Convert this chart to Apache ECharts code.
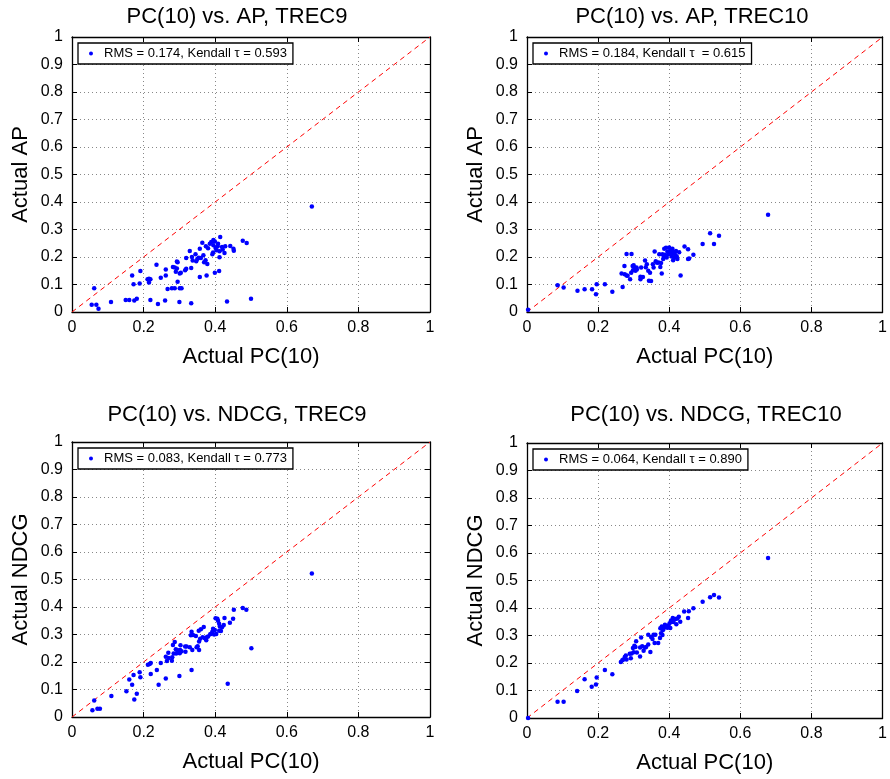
<!DOCTYPE html>
<html>
<head>
<meta charset="utf-8">
<script src="https://cdn.jsdelivr.net/npm/echarts@6/dist/echarts.min.js"></script>
<style>
html, body { margin: 0; padding: 0; background: #fff; }
#main { width: 890px; height: 779px; }
</style>
</head>
<body>
<div id="main"></div>
<script>
// panel titles, axis names and legend texts
var titles = ['PC(10) vs. AP, TREC9', 'PC(10) vs. AP, TREC10', 'PC(10) vs. NDCG, TREC9', 'PC(10) vs. NDCG, TREC10'];
var xNames = ['Actual PC(10)', 'Actual PC(10)', 'Actual PC(10)', 'Actual PC(10)'];
var yNames = ['Actual AP', 'Actual AP', 'Actual NDCG', 'Actual NDCG'];
var legendNames = [
	'RMS = 0.174, Kendall \u03c4 = 0.593',
	'RMS = 0.184, Kendall \u03c4  = 0.615',
	'RMS = 0.083, Kendall \u03c4 = 0.773',
	'RMS = 0.064, Kendall \u03c4 = 0.890'
];

// reference line y = x
var diag = [[0, 0], [1, 1]];

// [actual PC(10), actual AP] TREC9
var apTrec9 = [
	[0.062,0.086],[0.055,0.026],[0.068,0.026],[0.074,0.012],[0.109,0.036],[0.150,0.044],[0.160,0.044],
	[0.168,0.133],[0.172,0.101],[0.174,0.042],[0.181,0.048],[0.189,0.104],[0.191,0.149],[0.211,0.119],
	[0.215,0.121],[0.219,0.119],[0.215,0.107],[0.219,0.044],[0.236,0.172],[0.240,0.029],[0.248,0.125],
	[0.262,0.155],[0.262,0.133],[0.260,0.042],[0.267,0.084],[0.279,0.086],[0.287,0.086],[0.282,0.164],
	[0.287,0.162],[0.290,0.146],[0.293,0.184],[0.295,0.181],[0.293,0.158],[0.295,0.110],[0.301,0.140],
	[0.301,0.086],[0.306,0.086],[0.300,0.036],[0.304,0.143],[0.316,0.152],[0.319,0.157],[0.319,0.196],
	[0.329,0.222],[0.333,0.160],[0.333,0.032],[0.335,0.200],[0.337,0.187],[0.345,0.210],[0.347,0.185],
	[0.350,0.193],[0.354,0.197],[0.357,0.230],[0.357,0.127],[0.360,0.196],[0.364,0.252],[0.367,0.206],
	[0.369,0.181],[0.373,0.188],[0.374,0.239],[0.376,0.133],[0.378,0.175],[0.380,0.232],[0.385,0.248],
	[0.389,0.255],[0.392,0.210],[0.394,0.216],[0.395,0.262],[0.395,0.243],[0.399,0.256],[0.399,0.143],
	[0.401,0.233],[0.404,0.225],[0.407,0.239],[0.408,0.248],[0.411,0.149],[0.412,0.199],[0.412,0.221],
	[0.414,0.273],[0.419,0.236],[0.421,0.227],[0.426,0.215],[0.428,0.239],[0.433,0.038],[0.442,0.240],
	[0.451,0.230],[0.452,0.223],[0.477,0.259],[0.488,0.251],[0.500,0.048],[0.670,0.384]
];

// [actual PC(10), actual AP] TREC10
var apTrec10 = [
	[0.003,0.008],[0.086,0.097],[0.103,0.089],[0.142,0.077],[0.162,0.083],[0.183,0.083],[0.194,0.065],
	[0.196,0.101],[0.219,0.101],[0.240,0.074],[0.266,0.140],[0.269,0.091],[0.274,0.167],[0.275,0.137],
	[0.280,0.133],[0.280,0.211],[0.283,0.132],[0.290,0.119],[0.293,0.143],[0.294,0.211],[0.297,0.167],
	[0.298,0.152],[0.300,0.170],[0.303,0.160],[0.305,0.150],[0.308,0.162],[0.309,0.155],[0.319,0.119],
	[0.319,0.128],[0.321,0.162],[0.326,0.127],[0.332,0.187],[0.334,0.163],[0.337,0.174],[0.341,0.150],
	[0.343,0.114],[0.346,0.143],[0.349,0.113],[0.354,0.174],[0.356,0.162],[0.359,0.220],[0.362,0.185],
	[0.366,0.179],[0.370,0.180],[0.372,0.210],[0.375,0.164],[0.377,0.178],[0.379,0.140],[0.381,0.210],
	[0.383,0.193],[0.385,0.202],[0.386,0.230],[0.388,0.208],[0.391,0.234],[0.393,0.198],[0.395,0.220],
	[0.398,0.210],[0.400,0.235],[0.402,0.221],[0.404,0.227],[0.405,0.212],[0.407,0.202],[0.409,0.230],
	[0.411,0.188],[0.412,0.218],[0.414,0.197],[0.416,0.210],[0.419,0.222],[0.421,0.203],[0.423,0.193],
	[0.428,0.217],[0.432,0.133],[0.443,0.238],[0.453,0.193],[0.453,0.228],[0.456,0.195],[0.468,0.208],
	[0.494,0.247],[0.515,0.286],[0.526,0.247],[0.540,0.277],[0.678,0.354]
];

// [actual PC(10), actual NDCG] TREC9
var ndcgTrec9 = [
	[0.057,0.025],[0.062,0.060],[0.071,0.030],[0.078,0.030],[0.110,0.076],[0.152,0.094],[0.160,0.136],
	[0.168,0.117],[0.172,0.153],[0.174,0.064],[0.181,0.085],[0.189,0.163],[0.191,0.145],[0.212,0.190],
	[0.217,0.193],[0.220,0.196],[0.220,0.156],[0.237,0.171],[0.242,0.117],[0.248,0.196],[0.262,0.140],
	[0.262,0.219],[0.265,0.204],[0.269,0.234],[0.270,0.215],[0.279,0.205],[0.280,0.217],[0.282,0.262],
	[0.284,0.231],[0.287,0.273],[0.290,0.246],[0.291,0.231],[0.295,0.237],[0.296,0.243],[0.300,0.149],
	[0.301,0.232],[0.302,0.244],[0.303,0.261],[0.306,0.239],[0.316,0.256],[0.317,0.237],[0.320,0.256],
	[0.329,0.254],[0.332,0.297],[0.334,0.310],[0.334,0.171],[0.336,0.244],[0.338,0.298],[0.346,0.295],
	[0.348,0.254],[0.351,0.257],[0.354,0.314],[0.355,0.244],[0.355,0.275],[0.358,0.285],[0.360,0.319],
	[0.365,0.290],[0.368,0.327],[0.371,0.286],[0.375,0.279],[0.376,0.290],[0.380,0.293],[0.386,0.301],
	[0.389,0.303],[0.392,0.310],[0.394,0.321],[0.397,0.300],[0.399,0.316],[0.401,0.359],[0.403,0.302],
	[0.406,0.357],[0.408,0.350],[0.411,0.339],[0.411,0.314],[0.413,0.329],[0.416,0.313],[0.419,0.326],
	[0.424,0.335],[0.426,0.360],[0.435,0.121],[0.441,0.343],[0.450,0.357],[0.452,0.390],[0.477,0.396],
	[0.487,0.390],[0.501,0.250],[0.670,0.522]
];

// [actual PC(10), actual NDCG] TREC10
var ndcgTrec10 = [
	[0.003,0.000],[0.086,0.059],[0.103,0.059],[0.141,0.098],[0.162,0.141],[0.182,0.114],[0.194,0.122],
	[0.196,0.147],[0.219,0.175],[0.240,0.159],[0.264,0.204],[0.268,0.210],[0.271,0.213],[0.275,0.222],
	[0.278,0.227],[0.280,0.213],[0.289,0.234],[0.292,0.217],[0.294,0.235],[0.298,0.255],[0.300,0.239],
	[0.302,0.263],[0.305,0.258],[0.307,0.279],[0.309,0.238],[0.318,0.224],[0.318,0.256],[0.321,0.293],
	[0.324,0.261],[0.328,0.245],[0.332,0.256],[0.335,0.258],[0.341,0.267],[0.341,0.303],[0.347,0.240],
	[0.349,0.295],[0.353,0.287],[0.356,0.303],[0.359,0.273],[0.361,0.303],[0.369,0.273],[0.374,0.291],
	[0.375,0.326],[0.377,0.308],[0.379,0.333],[0.381,0.302],[0.382,0.319],[0.384,0.325],[0.386,0.331],
	[0.388,0.339],[0.391,0.331],[0.394,0.335],[0.395,0.328],[0.398,0.335],[0.401,0.345],[0.403,0.327],
	[0.405,0.355],[0.407,0.350],[0.410,0.364],[0.412,0.349],[0.414,0.360],[0.418,0.360],[0.420,0.341],
	[0.423,0.362],[0.427,0.368],[0.431,0.350],[0.442,0.387],[0.453,0.364],[0.455,0.388],[0.468,0.399],
	[0.494,0.423],[0.515,0.439],[0.526,0.447],[0.540,0.438],[0.678,0.582]
];

var panelData = [apTrec9, apTrec10, ndcgTrec9, ndcgTrec10];

// layout of the four plot boxes
var boxes = [
	{ left: 72, top: 37, width: 358, height: 275 },
	{ left: 527, top: 37, width: 358, height: 275 },
	{ left: 72, top: 442, width: 358, height: 275 },
	{ left: 527, top: 443, width: 358, height: 275 }
];
var titlePos = [[237, 6], [692, 6], [237, 404], [706, 404]];

var font = 'Liberation Sans, Arial, Helvetica, sans-serif';

var myChart = echarts.init(document.getElementById('main'));

var grid = [], xAxis = [], yAxis = [], series = [], title = [], legend = [];

for (var i = 0; i < 4; i++) {
	var b = boxes[i];
	grid.push({ left: b.left, top: b.top, width: b.width, height: b.height, containLabel: false });

	title.push({
		text: titles[i],
		left: titlePos[i][0],
		top: titlePos[i][1],
		textAlign: 'center',
		padding: 0,
		textStyle: { fontFamily: font, fontSize: 22, fontWeight: 'normal', color: '#000' }
	});

	legend.push({
		data: [legendNames[i]],
		left: b.left + 6,
		top: b.top + 6,
		icon: 'circle',
		itemWidth: 4,
		itemHeight: 4,
		padding: [4, 6, 4, 11],
		borderColor: '#000',
		borderWidth: 1.3,
		backgroundColor: '#fff',
		selectedMode: false,
		textStyle: { fontFamily: font, fontSize: 13, color: '#000', padding: [0, 0, 0, 6] }
	});

	// bottom / left axes with labels and dotted grid
	xAxis.push({
		gridIndex: i, type: 'value', min: 0, max: 1, interval: 0.2, position: 'bottom',
		name: xNames[i], nameLocation: 'middle', nameGap: 34,
		nameTextStyle: { fontFamily: font, fontSize: 22, color: '#000' },
		axisLine: { show: true, onZero: false, lineStyle: { color: '#000', width: 1.3 } },
		axisTick: { show: true, inside: true, length: 5, lineStyle: { color: '#000' } },
		axisLabel: { fontFamily: font, fontSize: 16, color: '#000', margin: 8 },
		splitLine: { show: true, lineStyle: { color: '#888', width: 1, type: [1, 3] } }
	});
	xAxis.push({
		gridIndex: i, type: 'value', min: 0, max: 1, interval: 0.2, position: 'top',
		axisLine: { show: true, onZero: false, lineStyle: { color: '#000', width: 1.3 } },
		axisTick: { show: true, inside: true, length: 5, lineStyle: { color: '#000' } },
		axisLabel: { show: false },
		splitLine: { show: false }
	});
	yAxis.push({
		gridIndex: i, type: 'value', min: 0, max: 1, interval: 0.1, position: 'left',
		name: yNames[i], nameLocation: 'middle', nameGap: 40,
		nameTextStyle: { fontFamily: font, fontSize: 22, color: '#000' },
		axisLine: { show: true, onZero: false, lineStyle: { color: '#000', width: 1.3 } },
		axisTick: { show: true, inside: true, length: 5, lineStyle: { color: '#000' } },
		axisLabel: { fontFamily: font, fontSize: 16, color: '#000', margin: 9 },
		splitLine: { show: true, lineStyle: { color: '#888', width: 1, type: [1, 3] } }
	});
	yAxis.push({
		gridIndex: i, type: 'value', min: 0, max: 1, interval: 0.1, position: 'right',
		axisLine: { show: true, onZero: false, lineStyle: { color: '#000', width: 1.3 } },
		axisTick: { show: true, inside: true, length: 5, lineStyle: { color: '#000' } },
		axisLabel: { show: false },
		splitLine: { show: false }
	});

	series.push({
		type: 'line',
		xAxisIndex: 2 * i,
		yAxisIndex: 2 * i,
		data: diag,
		symbol: 'none',
		silent: true,
		lineStyle: { color: '#ff0000', width: 1, type: [5, 4] },
		z: 2
	});
	series.push({
		name: legendNames[i],
		type: 'scatter',
		xAxisIndex: 2 * i,
		yAxisIndex: 2 * i,
		data: panelData[i],
		symbol: 'circle',
		symbolSize: 4.5,
		itemStyle: { color: '#0000ff', opacity: 1 },
		z: 3
	});
}

var option = {
	backgroundColor: '#fff',
	animation: false,
	title: title,
	legend: legend,
	grid: grid,
	xAxis: xAxis,
	yAxis: yAxis,
	series: series
};
myChart.setOption(option);
</script>
</body>
</html>
